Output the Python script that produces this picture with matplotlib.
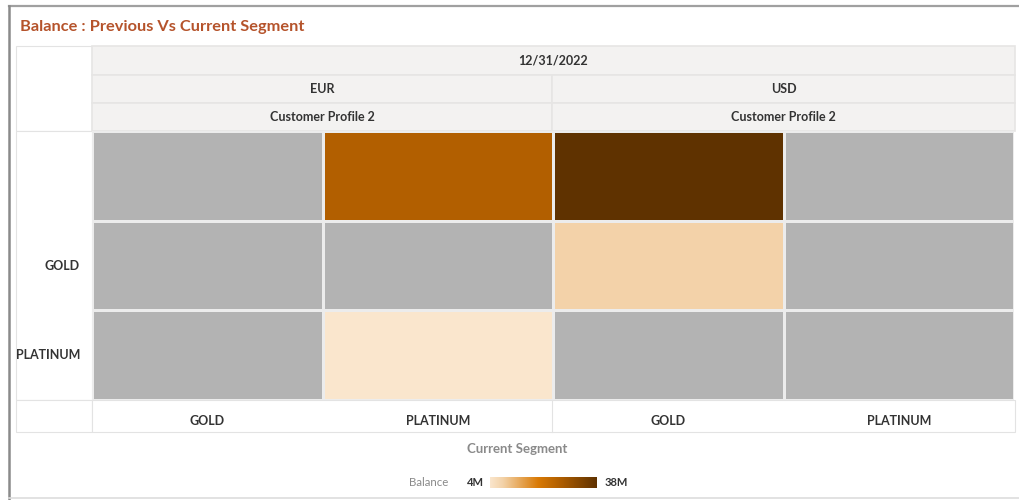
import numpy as np
import matplotlib
matplotlib.use("Agg")
import matplotlib.pyplot as plt
import matplotlib.transforms as mtransforms
from matplotlib.colors import LinearSegmentedColormap, Normalize
from matplotlib.patches import Rectangle
from matplotlib.lines import Line2D

# ---- data ----
title = "Balance : Previous Vs Current Segment"
date_label = "12/31/2022"
currencies = ["EUR", "USD"]
profiles = ["Customer Profile 2", "Customer Profile 2"]
current_segments = ["GOLD", "PLATINUM", "GOLD", "PLATINUM"]
previous_segments = ["", "GOLD", "PLATINUM"]
# Balance in millions; NaN = no data
balance_row0 = [np.nan, 26.0, 38.0, np.nan]
balance_row1 = [np.nan, np.nan, 8.0, np.nan]
balance_row2 = [np.nan, 4.0, np.nan, np.nan]
vmin, vmax = 4.0, 38.0

W, H = 1019, 500
plt.rcParams['font.family'] = ['Lato', 'DejaVu Sans']
fig = plt.figure(figsize=(W / 100, H / 100), dpi=100)

def fx(x):
    return x / W

def fy(y):
    return 1 - y / H

def rect(x0, y0, x1, y1, fc, ec='none', lw=0.8, z=-1):
    fig.patches.append(Rectangle((fx(x0), fy(y1)), fx(x1) - fx(x0), fy(y0) - fy(y1),
                                 transform=fig.transFigure, facecolor=fc,
                                 edgecolor=ec, linewidth=lw, zorder=z))

def line(x0, y0, x1, y1, c, lw=1.0, z=-0.5):
    fig.add_artist(Line2D([fx(x0), fx(x1)], [fy(y0), fy(y1)], transform=fig.transFigure,
                          color=c, linewidth=lw, zorder=z))

# outer frame
line(9, 6, 1019, 6, '#a0a0a0', 1.6)
line(9, 6, 9, 500, '#8a8a8a', 1.8)
line(9, 498, 1019, 498, '#dddddd', 1.2)

# title
fig.text(fx(20), fy(27), title, color='#b5532b', fontsize=11.8, fontweight='bold',
         ha='left', va='center')

# table frame
L, R = 16, 1015
hx0 = 92
top = 46
hrows = [46, 75, 103, 131]
grid_top, grid_bot = 131, 400
grid_right = 1014
tbl_bot = 432
edge = '#e3e3e3'

rect(L, top, hx0, grid_top, 'white', edge, 0.8)
rect(L, grid_top, hx0, grid_bot, 'white', edge, 0.8)
rect(L, grid_bot, hx0, tbl_bot, 'white', edge, 0.8)
rect(hx0, grid_bot, R, tbl_bot, 'white', edge, 0.8)
line(552, grid_bot, 552, tbl_bot, edge, 0.8)

# header rows
hdr_bg = '#f3f2f1'
hdr_ec = '#e6e5e4'
rect(hx0, hrows[0], R, hrows[1], hdr_bg, hdr_ec, 1.2)
mid = 552
for r in (1, 2):
    rect(hx0, hrows[r], mid, hrows[r + 1], hdr_bg, hdr_ec, 1.2)
    rect(mid, hrows[r], R, hrows[r + 1], hdr_bg, hdr_ec, 1.2)

lab_color = '#333333'
hdr_txt = dict(color=lab_color, fontsize=9, fontweight='bold', ha='center', va='center')
fig.text(fx((hx0 + R) / 2), fy((hrows[0] + hrows[1]) / 2), date_label, **hdr_txt)
for i, (cur, prof) in enumerate(zip(currencies, profiles)):
    cx = (hx0 + mid) / 2 if i == 0 else (mid + R) / 2
    fig.text(fx(cx), fy((hrows[1] + hrows[2]) / 2), cur, **hdr_txt)
    fig.text(fx(cx), fy((hrows[2] + hrows[3]) / 2), prof, **hdr_txt)

# heatmap
cmap = LinearSegmentedColormap.from_list(
    'bal', [(0.0, '#fae6cd'), (0.12, '#f3d2a8'), (0.45, '#d97a05'),
            (0.65, '#b15f00'), (1.0, '#5f3200')])
cmap.set_bad('#b3b3b3')
data = np.ma.masked_invalid(np.array([balance_row0, balance_row1, balance_row2]))
norm = Normalize(vmin, vmax)

ax = fig.add_axes([fx(hx0), fy(grid_bot), fx(grid_right) - fx(hx0), fy(grid_top) - fy(grid_bot)])
ax.set_zorder(2)
ax.patch.set_alpha(0)
ax.pcolormesh(np.arange(5), np.arange(4), data, cmap=cmap, norm=norm,
              edgecolors='#ececec', linewidth=2.0)
ax.set_xlim(0, 4)
ax.set_ylim(3, 0)
ax.set_xticks([])
ax.set_yticks([])
for s in ax.spines.values():
    s.set_visible(False)

# row labels (right aligned at x=80px)
row_lab_x = (80 - hx0) / (grid_right - hx0)
for i, lab in enumerate(previous_segments):
    ax.text(row_lab_x, i + 0.5, lab, transform=ax.get_yaxis_transform(),
            ha='right', va='center', fontsize=9, fontweight='bold', color=lab_color)
# column labels
col_tr = mtransforms.blended_transform_factory(ax.transData, fig.transFigure)
for j, lab in enumerate(current_segments):
    ax.text(j + 0.5, fy(421), lab, transform=col_tr, ha='center', va='center',
            fontsize=9, fontweight='bold', color=lab_color)

# axis title
fig.text(fx(517), fy(449), "Current Segment", color='#8a8a8a', fontsize=9.5,
         fontweight='bold', ha='center', va='center')

# legend
cax = fig.add_axes([fx(490), fy(488), fx(597) - fx(490), fy(477) - fy(488)])
grad = np.linspace(vmin, vmax, 256).reshape(1, -1)
cax.imshow(grad, aspect='auto', cmap=cmap, norm=norm, extent=[vmin, vmax, 0, 1])
cax.set_xticks([])
cax.set_yticks([])
for s in cax.spines.values():
    s.set_visible(False)
fig.text(fx(448), fy(483), "Balance", color='#8a8a8a', fontsize=8.3, ha='right', va='center')
fig.text(fx(475), fy(483), "4M", color=lab_color, fontsize=8, fontweight='bold',
         ha='center', va='center')
fig.text(fx(616), fy(483), "38M", color=lab_color, fontsize=8, fontweight='bold',
         ha='center', va='center')

fig.savefig('out.png', dpi=100, facecolor='white')
